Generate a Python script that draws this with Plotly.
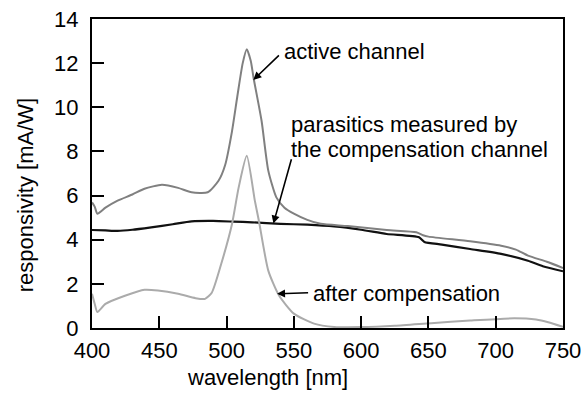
import plotly.graph_objects as go

# wavelength [nm] and responsivity [mA/W]
active_wl = [400, 402, 404, 410, 419, 430, 439, 452, 464, 474, 486, 494, 499, 504, 508, 512, 515, 518, 520, 526, 531, 537, 543, 550, 560, 570, 590, 619, 641, 646, 650, 681, 704, 715, 724, 738, 750]
active_val = [5.69, 5.5, 5.18, 5.45, 5.77, 6.05, 6.31, 6.49, 6.35, 6.15, 6.15, 6.67, 7.4, 8.9, 10.5, 12.0, 12.63, 12.1, 11.35, 9.39, 7.13, 5.92, 5.45, 5.18, 4.9, 4.72, 4.62, 4.44, 4.34, 4.2, 4.14, 3.93, 3.73, 3.55, 3.28, 3.0, 2.72]

parasitic_wl = [400, 410, 419, 430, 444, 460, 474, 490, 505, 519, 540, 560, 580, 600, 619, 643, 647, 660, 681, 704, 724, 735, 750]
parasitic_val = [4.44, 4.42, 4.40, 4.45, 4.56, 4.7, 4.83, 4.85, 4.82, 4.79, 4.72, 4.68, 4.6, 4.45, 4.26, 4.11, 3.9, 3.78, 3.58, 3.36, 3.05, 2.8, 2.57]

after_wl = [400, 402, 404, 410, 425, 439, 449, 464, 477, 484, 489, 496, 504, 509, 515, 521, 524, 531, 539, 550, 565, 580, 600, 625, 652, 681, 714, 730, 739, 750]
after_val = [1.55, 1.1, 0.72, 1.09, 1.47, 1.73, 1.70, 1.55, 1.35, 1.32, 1.6, 2.9, 4.7, 6.37, 7.8, 5.77, 4.86, 2.6, 1.47, 0.65, 0.2, 0.05, 0.04, 0.1, 0.22, 0.34, 0.44, 0.38, 0.26, 0.05]

x_ticks = [400, 450, 500, 550, 600, 650, 700, 750]
y_ticks = [0, 2, 4, 6, 8, 10, 12, 14]

FONT = "Liberation Sans, Arial, Helvetica, sans-serif"

fig = go.Figure()
fig.add_trace(go.Scatter(x=parasitic_wl, y=parasitic_val, mode="lines",
                         line=dict(color="#111111", width=2.2, shape="spline", smoothing=0.6),
                         name="parasitics"))
fig.add_trace(go.Scatter(x=active_wl, y=active_val, mode="lines",
                         line=dict(color="#808080", width=2, shape="spline", smoothing=0.6),
                         name="active channel"))
fig.add_trace(go.Scatter(x=after_wl, y=after_val, mode="lines",
                         line=dict(color="#ababab", width=2, shape="spline", smoothing=0.6),
                         name="after compensation"))

ann_font = dict(family=FONT, size=22, color="black")
annotations = [
    # arrows
    dict(x=519.9, y=11.24, ax=540.0, ay=12.42, axref="x", ayref="y", xref="x", yref="y",
         text="", showarrow=True, arrowhead=2, arrowsize=1, arrowwidth=1.6, arrowcolor="black"),
    dict(x=534.8, y=4.73, ax=548.5, ay=7.71, axref="x", ayref="y", xref="x", yref="y",
         text="", showarrow=True, arrowhead=2, arrowsize=1, arrowwidth=1.6, arrowcolor="black"),
    dict(x=537.5, y=1.55, ax=561.7, ay=1.60, axref="x", ayref="y", xref="x", yref="y",
         text="", showarrow=True, arrowhead=2, arrowsize=1, arrowwidth=1.6, arrowcolor="black"),
    # labels
    dict(x=541.5, y=12.55, xref="x", yref="y", text="active channel", showarrow=False,
         xanchor="left", yanchor="middle", font=ann_font),
    dict(x=546.5, y=9.20, xref="x", yref="y", text="parasitics measured by", showarrow=False,
         xanchor="left", yanchor="middle", font=ann_font),
    dict(x=546.5, y=8.10, xref="x", yref="y", text="the compensation channel", showarrow=False,
         xanchor="left", yanchor="middle", font=ann_font),
    dict(x=562.5, y=1.55, xref="x", yref="y", text="after compensation", showarrow=False,
         xanchor="left", yanchor="middle", font=ann_font),
    # axis titles
    dict(x=-0.142, y=0.43, xref="paper", yref="paper", text="responsivity [mA/W]",
         showarrow=False, textangle=-90, xanchor="center", yanchor="middle", font=ann_font),
    dict(x=0.373, y=-0.16, xref="paper", yref="paper", text="wavelength [nm]",
         showarrow=False, xanchor="center", yanchor="middle", font=ann_font),
]

fig.update_layout(
    width=585, height=404,
    margin=dict(l=92, r=22, t=19, b=76, autoexpand=False),
    paper_bgcolor="white", plot_bgcolor="white",
    showlegend=False,
    font=dict(family=FONT, size=22, color="black"),
    annotations=annotations,
)
fig.update_xaxes(range=[400, 750], tickvals=x_ticks, ticks="inside", ticklen=12, tickwidth=2,
                 tickcolor="black", showline=True, linecolor="black", linewidth=2, mirror=True,
                 showgrid=False, zeroline=False, ticklabelstandoff=2, automargin=False,
                 tickfont=dict(family=FONT, size=22, color="black"))
fig.update_yaxes(range=[0, 14], tickvals=y_ticks, ticks="inside", ticklen=12, tickwidth=2,
                 tickcolor="black", showline=True, linecolor="black", linewidth=2, mirror=True,
                 showgrid=False, zeroline=False, ticklabelstandoff=7, automargin=False,
                 tickfont=dict(family=FONT, size=22, color="black"))

fig.write_html("out.html", config={"displayModeBar": False},
               post_script="document.body.style.margin='0';document.body.style.padding='0';document.body.style.overflow='hidden';")
